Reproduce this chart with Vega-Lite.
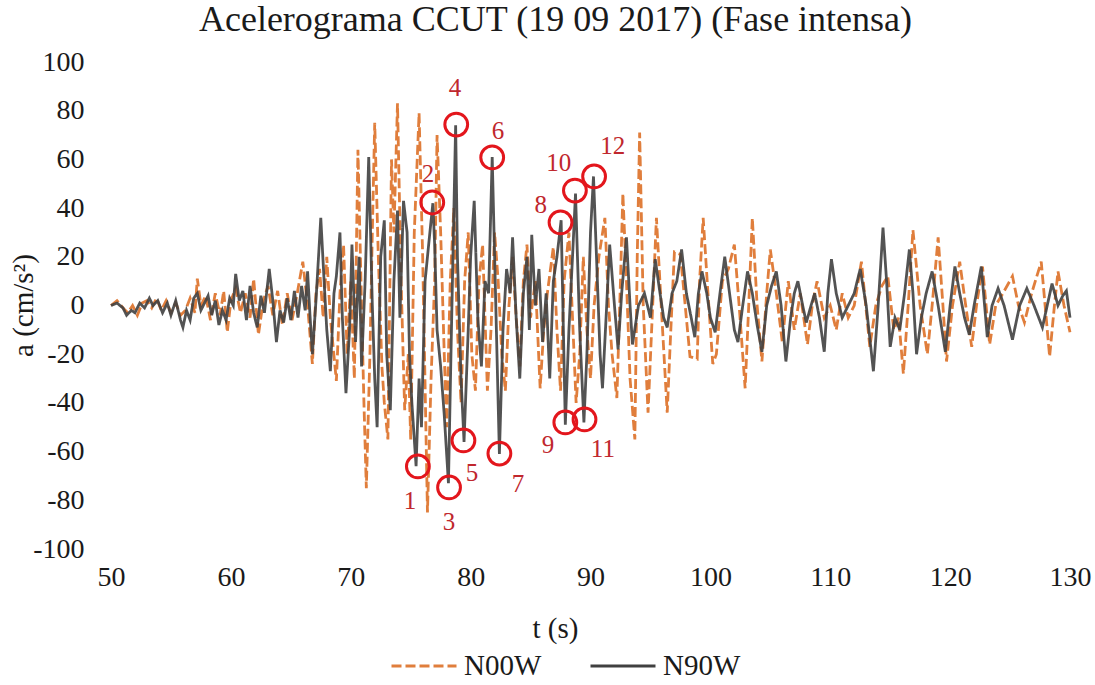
{
  "$schema": "https://vega.github.io/schema/vega-lite/v6.json",
  "width": 959,
  "height": 487,
  "autosize": {"type": "none"},
  "padding": {"left": 111, "top": 62, "right": 25, "bottom": 136},
  "background": "white",
  "title": {
    "text": "Acelerograma CCUT (19 09 2017) (Fase intensa)",
    "font": "Liberation Serif",
    "fontSize": 36,
    "fontWeight": "normal",
    "color": "#1a1a1a",
    "anchor": "middle",
    "dx": -35,
    "offset": 9
  },
  "datasets": {
    "n00w": [
      {"t": 50.0, "a": 0}, {"t": 50.5, "a": 2}, {"t": 51.0, "a": -1}, {"t": 51.4, "a": -3}, {"t": 51.8, "a": 0},
      {"t": 52.2, "a": -4}, {"t": 52.6, "a": 1}, {"t": 53.0, "a": 2}, {"t": 53.4, "a": -1}, {"t": 53.8, "a": 3},
      {"t": 54.2, "a": -2}, {"t": 54.6, "a": 2}, {"t": 55.0, "a": -3}, {"t": 55.4, "a": 1}, {"t": 55.8, "a": -4},
      {"t": 56.2, "a": -2}, {"t": 56.6, "a": 3}, {"t": 57.0, "a": -3}, {"t": 57.2, "a": 11}, {"t": 57.5, "a": 0},
      {"t": 57.9, "a": 4}, {"t": 58.3, "a": -6}, {"t": 58.7, "a": 5}, {"t": 59.1, "a": -4}, {"t": 59.4, "a": 6},
      {"t": 59.7, "a": -11}, {"t": 60.0, "a": 2}, {"t": 60.4, "a": 7}, {"t": 60.8, "a": -3}, {"t": 61.2, "a": 5},
      {"t": 61.6, "a": -5}, {"t": 61.9, "a": 11}, {"t": 62.3, "a": -12}, {"t": 62.7, "a": 2}, {"t": 63.1, "a": 8},
      {"t": 63.5, "a": -4}, {"t": 63.9, "a": 6}, {"t": 64.3, "a": -8}, {"t": 64.7, "a": 5}, {"t": 65.1, "a": -6},
      {"t": 65.5, "a": 4}, {"t": 66.0, "a": 18}, {"t": 66.4, "a": 0}, {"t": 66.8, "a": -24}, {"t": 67.1, "a": 5},
      {"t": 67.4, "a": 15}, {"t": 67.7, "a": -5}, {"t": 68.0, "a": 20}, {"t": 68.3, "a": -5}, {"t": 68.8, "a": -31},
      {"t": 69.1, "a": 5}, {"t": 69.4, "a": 25}, {"t": 69.7, "a": -20}, {"t": 70.0, "a": 10}, {"t": 70.3, "a": -30},
      {"t": 70.6, "a": 64}, {"t": 70.9, "a": 0}, {"t": 71.1, "a": -40}, {"t": 71.3, "a": -75}, {"t": 71.6, "a": -20},
      {"t": 71.8, "a": 30}, {"t": 72.0, "a": 75}, {"t": 72.3, "a": 20}, {"t": 72.6, "a": -25}, {"t": 72.8, "a": -40},
      {"t": 73.1, "a": -55}, {"t": 73.4, "a": 60}, {"t": 73.6, "a": 30}, {"t": 73.9, "a": 83}, {"t": 74.2, "a": 10},
      {"t": 74.5, "a": -43}, {"t": 74.8, "a": -20}, {"t": 75.0, "a": -55}, {"t": 75.3, "a": 30}, {"t": 75.7, "a": 79},
      {"t": 76.0, "a": 20}, {"t": 76.4, "a": -85}, {"t": 76.7, "a": -30}, {"t": 77.0, "a": 10}, {"t": 77.2, "a": 70},
      {"t": 77.5, "a": 30}, {"t": 77.8, "a": -20}, {"t": 78.0, "a": -50}, {"t": 78.3, "a": 10}, {"t": 78.6, "a": 40},
      {"t": 78.9, "a": -10}, {"t": 79.2, "a": -40}, {"t": 79.5, "a": 10}, {"t": 79.8, "a": 30}, {"t": 80.1, "a": -20},
      {"t": 80.4, "a": -35}, {"t": 80.7, "a": 10}, {"t": 81.0, "a": 25}, {"t": 81.4, "a": -35}, {"t": 81.7, "a": -10},
      {"t": 82.0, "a": 30}, {"t": 82.3, "a": 10}, {"t": 82.6, "a": -20}, {"t": 82.9, "a": -35}, {"t": 83.2, "a": 0},
      {"t": 83.5, "a": 20}, {"t": 83.8, "a": -5}, {"t": 84.1, "a": -25}, {"t": 84.4, "a": 10}, {"t": 84.7, "a": 25},
      {"t": 85.0, "a": -5}, {"t": 85.4, "a": 10}, {"t": 85.8, "a": -34}, {"t": 86.1, "a": -10}, {"t": 86.4, "a": 5},
      {"t": 86.9, "a": 24}, {"t": 87.2, "a": -10}, {"t": 87.5, "a": -35}, {"t": 87.8, "a": 10}, {"t": 88.2, "a": 30},
      {"t": 88.5, "a": -5}, {"t": 88.8, "a": -40}, {"t": 89.1, "a": -20}, {"t": 89.4, "a": 20}, {"t": 89.7, "a": -10},
      {"t": 90.0, "a": -30}, {"t": 90.3, "a": 0}, {"t": 90.7, "a": 20}, {"t": 91.2, "a": 36}, {"t": 91.5, "a": 0},
      {"t": 91.8, "a": -20}, {"t": 92.2, "a": -38}, {"t": 92.5, "a": 10}, {"t": 92.7, "a": 46}, {"t": 93.0, "a": 10},
      {"t": 93.3, "a": -30}, {"t": 93.7, "a": -55}, {"t": 93.9, "a": 20}, {"t": 94.1, "a": 71}, {"t": 94.4, "a": 0},
      {"t": 94.8, "a": -44}, {"t": 95.1, "a": -10}, {"t": 95.5, "a": 36}, {"t": 95.9, "a": 0}, {"t": 96.4, "a": -44},
      {"t": 96.7, "a": -10}, {"t": 97.0, "a": 22}, {"t": 97.5, "a": 21}, {"t": 97.9, "a": 0}, {"t": 98.3, "a": -21},
      {"t": 98.9, "a": -22}, {"t": 99.1, "a": 10}, {"t": 99.4, "a": 36}, {"t": 99.8, "a": 5}, {"t": 100.2, "a": -24},
      {"t": 100.5, "a": -20}, {"t": 101.0, "a": 10}, {"t": 101.5, "a": 15}, {"t": 102.0, "a": 25}, {"t": 102.4, "a": 0},
      {"t": 102.9, "a": -34}, {"t": 103.2, "a": 0}, {"t": 103.5, "a": 36}, {"t": 103.9, "a": 0}, {"t": 104.3, "a": -23},
      {"t": 104.7, "a": 5}, {"t": 105.0, "a": 23}, {"t": 105.5, "a": 5}, {"t": 106.0, "a": -15}, {"t": 106.5, "a": 10},
      {"t": 107.0, "a": -10}, {"t": 107.5, "a": 5}, {"t": 108.1, "a": -16}, {"t": 108.5, "a": 0}, {"t": 108.9, "a": 10},
      {"t": 109.5, "a": -5}, {"t": 110.0, "a": 0}, {"t": 110.5, "a": -10}, {"t": 111.0, "a": 5}, {"t": 111.5, "a": -5},
      {"t": 112.0, "a": 0}, {"t": 112.6, "a": 18}, {"t": 113.3, "a": -17}, {"t": 113.8, "a": 0}, {"t": 114.3, "a": 8},
      {"t": 114.8, "a": 12}, {"t": 115.3, "a": -10}, {"t": 115.7, "a": -5}, {"t": 116.1, "a": -28}, {"t": 116.5, "a": 0},
      {"t": 116.9, "a": 31}, {"t": 117.5, "a": 0}, {"t": 118.1, "a": -20}, {"t": 118.5, "a": 0}, {"t": 119.0, "a": 28},
      {"t": 119.4, "a": 0}, {"t": 119.7, "a": -23}, {"t": 120.2, "a": 0}, {"t": 120.8, "a": 18}, {"t": 121.3, "a": 0},
      {"t": 121.8, "a": -17}, {"t": 122.2, "a": 0}, {"t": 122.7, "a": 16}, {"t": 123.3, "a": -16}, {"t": 123.8, "a": 0},
      {"t": 124.4, "a": 5}, {"t": 125.2, "a": 12}, {"t": 125.7, "a": 0}, {"t": 126.2, "a": -7}, {"t": 126.8, "a": 5},
      {"t": 127.6, "a": 18}, {"t": 128.3, "a": -21}, {"t": 128.7, "a": 0}, {"t": 129.0, "a": 14}, {"t": 129.5, "a": 0},
      {"t": 130.0, "a": -11}
    ],
    "n90w": [
      {"t": 50.0, "a": 0}, {"t": 50.5, "a": 1}, {"t": 51.0, "a": -1}, {"t": 51.3, "a": -4}, {"t": 51.7, "a": -2},
      {"t": 52.0, "a": -3}, {"t": 52.4, "a": 1}, {"t": 52.8, "a": -1}, {"t": 53.2, "a": 3}, {"t": 53.5, "a": 0},
      {"t": 53.9, "a": 2}, {"t": 54.3, "a": -3}, {"t": 54.7, "a": 1}, {"t": 55.0, "a": -4}, {"t": 55.4, "a": 2},
      {"t": 55.8, "a": -6}, {"t": 56.0, "a": -9}, {"t": 56.3, "a": -2}, {"t": 56.6, "a": -6}, {"t": 56.9, "a": 3},
      {"t": 57.2, "a": 5}, {"t": 57.5, "a": -2}, {"t": 57.8, "a": 1}, {"t": 58.1, "a": 4}, {"t": 58.4, "a": -4},
      {"t": 58.7, "a": 2}, {"t": 59.0, "a": -8}, {"t": 59.3, "a": -2}, {"t": 59.6, "a": -6}, {"t": 59.9, "a": 3},
      {"t": 60.2, "a": 0}, {"t": 60.4, "a": 13}, {"t": 60.7, "a": 2}, {"t": 61.0, "a": 6}, {"t": 61.3, "a": -6},
      {"t": 61.6, "a": 8}, {"t": 61.9, "a": -3}, {"t": 62.2, "a": -9}, {"t": 62.5, "a": 4}, {"t": 62.8, "a": -3},
      {"t": 63.2, "a": 15}, {"t": 63.5, "a": 2}, {"t": 63.8, "a": -15}, {"t": 64.1, "a": -2}, {"t": 64.4, "a": -7},
      {"t": 64.7, "a": 3}, {"t": 65.0, "a": -6}, {"t": 65.3, "a": 6}, {"t": 65.6, "a": -5}, {"t": 65.9, "a": 8},
      {"t": 66.2, "a": -2}, {"t": 66.4, "a": 14}, {"t": 66.6, "a": -4}, {"t": 66.8, "a": -20}, {"t": 67.1, "a": 2},
      {"t": 67.5, "a": 36}, {"t": 67.8, "a": 8}, {"t": 68.0, "a": -10}, {"t": 68.3, "a": -27}, {"t": 68.6, "a": 5},
      {"t": 68.8, "a": 12}, {"t": 69.1, "a": 30}, {"t": 69.3, "a": -5}, {"t": 69.6, "a": -36}, {"t": 69.9, "a": -10},
      {"t": 70.1, "a": 25}, {"t": 70.4, "a": -15}, {"t": 70.7, "a": 20}, {"t": 70.9, "a": -25}, {"t": 71.2, "a": 10},
      {"t": 71.5, "a": 61}, {"t": 71.8, "a": 0}, {"t": 72.0, "a": -30}, {"t": 72.2, "a": -50}, {"t": 72.5, "a": 20},
      {"t": 72.8, "a": 35}, {"t": 73.0, "a": -20}, {"t": 73.3, "a": -43}, {"t": 73.6, "a": 10}, {"t": 73.9, "a": 39},
      {"t": 74.1, "a": -5}, {"t": 74.4, "a": 43}, {"t": 74.7, "a": 30}, {"t": 74.9, "a": -20}, {"t": 75.1, "a": -40},
      {"t": 75.45, "a": -66}, {"t": 75.7, "a": -30}, {"t": 75.9, "a": -50}, {"t": 76.2, "a": 10}, {"t": 76.5, "a": 25},
      {"t": 76.85, "a": 42}, {"t": 77.0, "a": 25}, {"t": 77.2, "a": -10}, {"t": 77.5, "a": -25}, {"t": 77.8, "a": -45},
      {"t": 78.15, "a": -73}, {"t": 78.4, "a": -10}, {"t": 78.75, "a": 74}, {"t": 78.9, "a": 20}, {"t": 79.2, "a": -30},
      {"t": 79.45, "a": -56}, {"t": 79.8, "a": -10}, {"t": 80.0, "a": 20}, {"t": 80.3, "a": 43}, {"t": 80.6, "a": -5},
      {"t": 80.9, "a": -25}, {"t": 81.2, "a": 10}, {"t": 81.5, "a": 5}, {"t": 81.8, "a": 61}, {"t": 82.1, "a": 0},
      {"t": 82.4, "a": -61}, {"t": 82.7, "a": -10}, {"t": 83.0, "a": 15}, {"t": 83.3, "a": 5}, {"t": 83.5, "a": 28},
      {"t": 83.8, "a": -5}, {"t": 84.1, "a": -30}, {"t": 84.4, "a": 5}, {"t": 84.7, "a": 20}, {"t": 84.9, "a": -10},
      {"t": 85.1, "a": 29}, {"t": 85.4, "a": 0}, {"t": 85.7, "a": 15}, {"t": 86.0, "a": -15}, {"t": 86.3, "a": 5},
      {"t": 86.6, "a": -30}, {"t": 86.9, "a": 10}, {"t": 87.2, "a": 20}, {"t": 87.55, "a": 35}, {"t": 87.9, "a": -49},
      {"t": 88.2, "a": -10}, {"t": 88.5, "a": 20}, {"t": 88.75, "a": 46}, {"t": 89.1, "a": -10}, {"t": 89.45, "a": -48},
      {"t": 89.7, "a": -20}, {"t": 90.0, "a": 30}, {"t": 90.25, "a": 53}, {"t": 90.5, "a": 20}, {"t": 90.8, "a": -20},
      {"t": 91.0, "a": -34}, {"t": 91.3, "a": -5}, {"t": 91.6, "a": 25}, {"t": 92.0, "a": 0}, {"t": 92.3, "a": -18},
      {"t": 92.6, "a": 5}, {"t": 93.0, "a": 28}, {"t": 93.3, "a": 0}, {"t": 93.5, "a": -16}, {"t": 94.0, "a": 0},
      {"t": 94.5, "a": 5}, {"t": 95.0, "a": -5}, {"t": 95.4, "a": 19}, {"t": 95.8, "a": 5}, {"t": 96.1, "a": -5},
      {"t": 96.4, "a": -9}, {"t": 96.8, "a": 5}, {"t": 97.2, "a": 10}, {"t": 97.6, "a": 23}, {"t": 98.0, "a": 5},
      {"t": 98.4, "a": -5}, {"t": 98.7, "a": -13}, {"t": 99.0, "a": 5}, {"t": 99.3, "a": 14}, {"t": 99.7, "a": 5},
      {"t": 100.0, "a": -5}, {"t": 100.4, "a": -11}, {"t": 100.8, "a": 5}, {"t": 101.2, "a": 20}, {"t": 101.6, "a": 5},
      {"t": 102.0, "a": -10}, {"t": 102.3, "a": -15}, {"t": 102.7, "a": 0}, {"t": 103.1, "a": 14}, {"t": 103.5, "a": 5},
      {"t": 103.9, "a": -8}, {"t": 104.3, "a": -19}, {"t": 104.7, "a": 0}, {"t": 105.1, "a": 8}, {"t": 105.5, "a": 14},
      {"t": 105.9, "a": 0}, {"t": 106.3, "a": -23}, {"t": 106.7, "a": -5}, {"t": 107.0, "a": 5}, {"t": 107.3, "a": 10},
      {"t": 107.7, "a": 0}, {"t": 108.0, "a": -7}, {"t": 108.4, "a": 0}, {"t": 108.7, "a": 5}, {"t": 109.1, "a": -5},
      {"t": 109.5, "a": -19}, {"t": 109.8, "a": 5}, {"t": 110.1, "a": 19}, {"t": 110.5, "a": 5}, {"t": 111.0, "a": -5},
      {"t": 111.5, "a": 0}, {"t": 112.0, "a": 5}, {"t": 112.5, "a": 15}, {"t": 113.0, "a": 0}, {"t": 113.6, "a": -27},
      {"t": 114.0, "a": 0}, {"t": 114.4, "a": 32}, {"t": 114.7, "a": 10}, {"t": 115.0, "a": -17}, {"t": 115.4, "a": -5},
      {"t": 115.8, "a": -10}, {"t": 116.2, "a": 5}, {"t": 116.6, "a": 23}, {"t": 116.9, "a": 5}, {"t": 117.2, "a": -20},
      {"t": 117.6, "a": -5}, {"t": 118.0, "a": 5}, {"t": 118.5, "a": 14}, {"t": 119.0, "a": 0}, {"t": 119.6, "a": -19},
      {"t": 120.0, "a": 0}, {"t": 120.4, "a": 16}, {"t": 120.8, "a": 5}, {"t": 121.2, "a": -5}, {"t": 121.6, "a": -12},
      {"t": 122.0, "a": 0}, {"t": 122.6, "a": 16}, {"t": 123.1, "a": -13}, {"t": 123.5, "a": 0}, {"t": 124.0, "a": 7},
      {"t": 124.5, "a": 0}, {"t": 125.2, "a": -14}, {"t": 125.8, "a": 0}, {"t": 126.4, "a": 7}, {"t": 127.0, "a": 0},
      {"t": 127.7, "a": -9}, {"t": 128.1, "a": 0}, {"t": 128.5, "a": 9}, {"t": 129.0, "a": 0}, {"t": 129.4, "a": 4},
      {"t": 129.7, "a": 6}, {"t": 130.0, "a": -5}
    ],
    "peaks": [
      {"n": "1", "t": 75.6, "a": -66.1, "lt": 74.94, "la": -80.1},
      {"n": "2", "t": 76.8, "a": 42.3, "lt": 76.44, "la": 54.2},
      {"n": "3", "t": 78.2, "a": -74.7, "lt": 78.19, "la": -89.1},
      {"n": "4", "t": 78.8, "a": 74.3, "lt": 78.69, "la": 89.5},
      {"n": "5", "t": 79.4, "a": -55.4, "lt": 80.11, "la": -68.6},
      {"n": "6", "t": 81.8, "a": 60.8, "lt": 82.28, "la": 71.5},
      {"n": "7", "t": 82.4, "a": -60.8, "lt": 83.95, "la": -73.5},
      {"n": "8", "t": 87.5, "a": 34.1, "lt": 85.86, "la": 41.1},
      {"n": "9", "t": 87.9, "a": -48.0, "lt": 86.45, "la": -57.1},
      {"n": "10", "t": 88.7, "a": 47.2, "lt": 87.36, "la": 58.7},
      {"n": "11", "t": 89.5, "a": -46.8, "lt": 91.03, "la": -59.1},
      {"n": "12", "t": 90.3, "a": 53.0, "lt": 91.86, "la": 65.3}
    ]
  },
  "layer": [
    {
      "mark": {"type": "rule", "color": "#d9d9d9", "strokeWidth": 1.5},
      "encoding": {
        "x": {"datum": 50, "type": "quantitative", "scale": {"domain": [50, 130], "nice": false, "zero": false}},
        "x2": {"datum": 130},
        "y": {"datum": 0, "type": "quantitative", "scale": {"domain": [-100, 100], "nice": false, "zero": false}}
      }
    },
    {
      "data": {"name": "n00w"},
      "mark": {"type": "line", "strokeWidth": 2.8},
      "encoding": {
        "x": {
          "field": "t",
          "type": "quantitative",
          "title": "t (s)",
          "scale": {"domain": [50, 130], "nice": false, "zero": false},
          "axis": {
            "values": [50, 60, 70, 80, 90, 100, 110, 120, 130],
            "labelFlush": false,
            "labelFont": "Times New Roman",
            "labelFontSize": 28,
            "titleFontSize": 29,
            "labelPadding": 14,
            "titleX": 444,
            "titleY": 79,
            "titleBaseline": "middle",
            "encode": {
              "labels": {"font": {"value": "Times New Roman"}},
              "title": {"font": {"value": "Liberation Serif"}}
            }
          }
        },
        "y": {
          "field": "a",
          "type": "quantitative",
          "title": "a (cm/s²)",
          "scale": {"domain": [-100, 100], "nice": false, "zero": false},
          "axis": {
            "values": [-100, -80, -60, -40, -20, 0, 20, 40, 60, 80, 100],
            "labelExpr": "'' + datum.value",
            "labelFlush": false,
            "labelFont": "Times New Roman",
            "labelFontSize": 28,
            "titleFontSize": 29,
            "labelPadding": 27,
            "titleX": -88,
            "titleY": 243,
            "titleBaseline": "middle",
            "encode": {
              "labels": {"font": {"value": "Times New Roman"}},
              "title": {"font": {"value": "Liberation Serif"}}
            }
          }
        },
        "color": {
          "datum": "N00W",
          "scale": {"domain": ["N00W", "N90W"], "range": ["#E07E3C", "#404040"]},
          "title": null,
          "legend": {
            "labelFontSize": 29,
            "encode": {"labels": {"update": {"font": {"value": "Liberation Serif"}}}}
          }
        },
        "strokeDash": {
          "datum": "N00W",
          "scale": {"domain": ["N00W", "N90W"], "range": [[10, 4], [1, 0]]},
          "title": null,
          "legend": {
            "labelFontSize": 29,
            "encode": {"labels": {"update": {"font": {"value": "Liberation Serif"}}}}
          }
        }
      }
    },
    {
      "data": {"name": "n90w"},
      "mark": {"type": "line", "strokeWidth": 2.8, "opacity": 0.9},
      "encoding": {
        "x": {"field": "t", "type": "quantitative", "title": "t (s)", "scale": {"domain": [50, 130], "nice": false, "zero": false}},
        "y": {"field": "a", "type": "quantitative", "title": "a (cm/s²)", "scale": {"domain": [-100, 100], "nice": false, "zero": false}},
        "color": {"datum": "N90W", "title": null},
        "strokeDash": {"datum": "N90W", "title": null}
      }
    },
    {
      "mark": {"type": "rule", "color": "#222222", "strokeWidth": 1.5, "strokeDash": [8, 5], "xOffset": -19, "x2Offset": 18},
      "encoding": {
        "x": {"datum": 50, "type": "quantitative", "scale": {"domain": [50, 130], "nice": false, "zero": false}},
        "x2": {"datum": 130},
        "y": {"datum": 31.7, "type": "quantitative", "scale": {"domain": [-100, 100], "nice": false, "zero": false}}
      }
    },
    {
      "mark": {"type": "rule", "color": "#222222", "strokeWidth": 1.5, "strokeDash": [8, 5], "xOffset": -19, "x2Offset": 18},
      "encoding": {
        "x": {"datum": 50, "type": "quantitative", "scale": {"domain": [50, 130], "nice": false, "zero": false}},
        "x2": {"datum": 130},
        "y": {"datum": -29.6, "type": "quantitative", "scale": {"domain": [-100, 100], "nice": false, "zero": false}}
      }
    },
    {
      "data": {"name": "peaks"},
      "mark": {"type": "point", "shape": "circle", "filled": false, "size": 520, "stroke": "#E3161C", "strokeWidth": 3, "opacity": 1},
      "encoding": {
        "x": {"field": "t", "type": "quantitative", "scale": {"domain": [50, 130], "nice": false, "zero": false}},
        "y": {"field": "a", "type": "quantitative", "scale": {"domain": [-100, 100], "nice": false, "zero": false}}
      }
    },
    {
      "data": {"name": "peaks"},
      "mark": {"type": "text", "font": "Liberation Serif", "fontSize": 25, "color": "#C0272D", "align": "center", "baseline": "middle"},
      "encoding": {
        "x": {"field": "lt", "type": "quantitative", "scale": {"domain": [50, 130], "nice": false, "zero": false}},
        "y": {"field": "la", "type": "quantitative", "scale": {"domain": [-100, 100], "nice": false, "zero": false}},
        "text": {"field": "n", "type": "nominal"}
      }
    }
  ],
  "config": {
    "view": {"stroke": null},
    "style": {
      "guide-label": {"font": "Liberation Serif"},
      "guide-title": {"font": "Liberation Serif"}
    },
    "axis": {
      "grid": false,
      "domain": false,
      "ticks": false,
      "tickSize": 0,
      "labelFont": "Liberation Serif",
      "titleFont": "Liberation Serif",
      "labelColor": "#1a1a1a",
      "titleFontWeight": "normal",
      "titleColor": "#1a1a1a"
    },
    "legend": {
      "orient": "none",
      "legendX": 279,
      "legendY": 570,
      "direction": "horizontal",
      "symbolType": "stroke",
      "symbolSize": 4225,
      "symbolStrokeWidth": 3,
      "labelColor": "#1a1a1a",
      "labelOffset": 6,
      "columnPadding": 42
    }
  }
}
